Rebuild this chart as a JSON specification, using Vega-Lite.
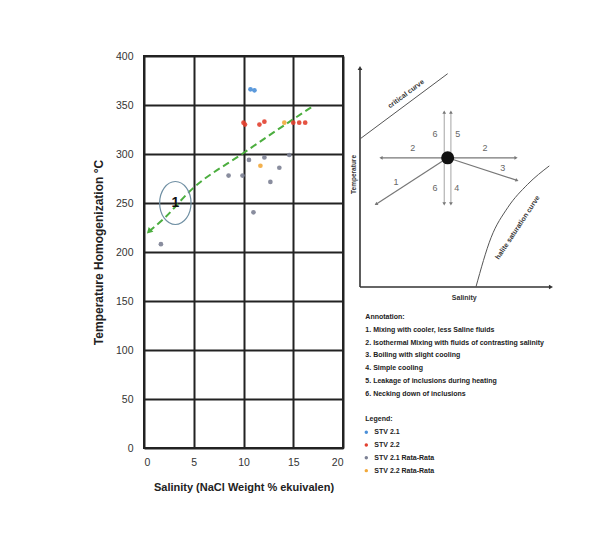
{
  "$schema": "https://vega.github.io/schema/vega-lite/v6.json",
  "background": "white",
  "padding": {"left": 91, "top": 50, "right": 5, "bottom": 5},
  "bounds": "flush",
  "spacing": 8,
  "config": {"font": "Liberation Sans", "view": {"stroke": null}},
  "datasets": {
    "points": [
      {"salinity": 10.7, "temperature": 366, "series": "STV 2.1"},
      {"salinity": 11.1, "temperature": 365, "series": "STV 2.1"},
      {"salinity": 10.0, "temperature": 332, "series": "STV 2.2"},
      {"salinity": 10.15, "temperature": 330, "series": "STV 2.2"},
      {"salinity": 11.6, "temperature": 330, "series": "STV 2.2"},
      {"salinity": 12.1, "temperature": 333, "series": "STV 2.2"},
      {"salinity": 15.0, "temperature": 332, "series": "STV 2.2"},
      {"salinity": 15.6, "temperature": 332, "series": "STV 2.2"},
      {"salinity": 16.2, "temperature": 332, "series": "STV 2.2"},
      {"salinity": 10.55, "temperature": 294, "series": "STV 2.1 Rata-Rata"},
      {"salinity": 12.1, "temperature": 296.5, "series": "STV 2.1 Rata-Rata"},
      {"salinity": 13.6, "temperature": 286, "series": "STV 2.1 Rata-Rata"},
      {"salinity": 8.5, "temperature": 278, "series": "STV 2.1 Rata-Rata"},
      {"salinity": 9.9, "temperature": 278, "series": "STV 2.1 Rata-Rata"},
      {"salinity": 12.7, "temperature": 271.5, "series": "STV 2.1 Rata-Rata"},
      {"salinity": 14.6, "temperature": 299, "series": "STV 2.1 Rata-Rata"},
      {"salinity": 11.0, "temperature": 240.5, "series": "STV 2.1 Rata-Rata"},
      {"salinity": 1.7, "temperature": 208, "series": "STV 2.1 Rata-Rata"},
      {"salinity": 11.7, "temperature": 288, "series": "STV 2.2 Rata-Rata"},
      {"salinity": 14.1, "temperature": 332, "series": "STV 2.2 Rata-Rata"}
    ],
    "trend": [
      {"salinity": 0.5, "temperature": 221},
      {"salinity": 2.1, "temperature": 235},
      {"salinity": 4.6, "temperature": 262},
      {"salinity": 10.0, "temperature": 301},
      {"salinity": 17.0, "temperature": 349}
    ],
    "trendHead": [{"salinity": 0.5, "temperature": 221}],
    "group": [{"salinity": 3.15, "temperature": 250, "label": "1"}],
    "schemaLines": [
      {"id": "yaxis", "kind": "axis", "s": 0, "t": 0},
      {"id": "yaxis", "kind": "axis", "s": 0, "t": 10.0},
      {"id": "xaxis", "kind": "axis", "s": 0, "t": 0},
      {"id": "xaxis", "kind": "axis", "s": 10.0, "t": 0},
      {"id": "critical", "kind": "curve", "s": 0, "t": 6.76},
      {"id": "critical", "kind": "curve", "s": 4.59, "t": 9.74},
      {"id": "halite", "kind": "halite", "s": 6.07, "t": 0},
      {"id": "halite", "kind": "halite", "s": 6.86, "t": 2.25},
      {"id": "halite", "kind": "halite", "s": 7.73, "t": 3.62},
      {"id": "halite", "kind": "halite", "s": 8.78, "t": 4.69},
      {"id": "halite", "kind": "halite", "s": 9.91, "t": 5.53},
      {"id": "p2", "kind": "process", "s": 1.10, "t": 5.90},
      {"id": "p2", "kind": "process", "s": 8.17, "t": 5.90},
      {"id": "p1", "kind": "process", "s": 4.59, "t": 5.90},
      {"id": "p1", "kind": "process", "s": 0.84, "t": 3.78},
      {"id": "p3", "kind": "process", "s": 4.59, "t": 5.90},
      {"id": "p3", "kind": "process", "s": 8.22, "t": 4.87},
      {"id": "p6", "kind": "vertical", "s": 4.41, "t": 7.99},
      {"id": "p6", "kind": "vertical", "s": 4.41, "t": 3.80},
      {"id": "p54", "kind": "vertical", "s": 4.76, "t": 7.99},
      {"id": "p54", "kind": "vertical", "s": 4.76, "t": 3.80}
    ],
    "heads": [
      {"kind": "axis", "s": 0, "t": 10.0, "dir": 0},
      {"kind": "axis", "s": 10.0, "t": 0, "dir": 90},
      {"kind": "process", "s": 1.10, "t": 5.90, "dir": 270},
      {"kind": "process", "s": 8.17, "t": 5.90, "dir": 90},
      {"kind": "process", "s": 0.84, "t": 3.78, "dir": 237},
      {"kind": "process", "s": 8.22, "t": 4.87, "dir": 109},
      {"kind": "process", "s": 4.41, "t": 7.99, "dir": 0},
      {"kind": "process", "s": 4.41, "t": 3.80, "dir": 180},
      {"kind": "process", "s": 4.76, "t": 7.99, "dir": 0},
      {"kind": "process", "s": 4.76, "t": 3.80, "dir": 180}
    ],
    "numbers": [
      {"s": 3.93, "t": 6.99, "label": "6"},
      {"s": 5.12, "t": 6.99, "label": "5"},
      {"s": 2.76, "t": 6.36, "label": "2"},
      {"s": 6.54, "t": 6.36, "label": "2"},
      {"s": 7.47, "t": 5.45, "label": "3"},
      {"s": 1.88, "t": 4.81, "label": "1"},
      {"s": 3.93, "t": 4.51, "label": "6"},
      {"s": 5.06, "t": 4.51, "label": "4"}
    ],
    "annotations": [
      {"line": 0, "label": "Annotation:"},
      {"line": 1, "label": "1. Mixing with cooler, less Saline fluids"},
      {"line": 2, "label": "2. Isothermal Mixing with fluids of contrasting salinity"},
      {"line": 3, "label": "3. Boiling with slight cooling"},
      {"line": 4, "label": "4. Simple cooling"},
      {"line": 5, "label": "5. Leakage of inclusions during heating"},
      {"line": 6, "label": "6. Necking down of inclusions"},
      {"line": 8, "label": "Legend:"}
    ],
    "legendItems": [
      {"line": 9, "series": "STV 2.1"},
      {"line": 10, "series": "STV 2.2"},
      {"line": 11, "series": "STV 2.1 Rata-Rata"},
      {"line": 12, "series": "STV 2.2 Rata-Rata"}
    ]
  },
  "hconcat": [
    {
      "width": 199,
      "height": 392,
      "view": {"stroke": "#222", "strokeWidth": 2},
      "encoding": {
        "x": {
          "field": "salinity", "type": "quantitative",
          "scale": {"domain": [0, 20], "nice": false, "zero": false},
          "axis": {
            "title": "Salinity (NaCl Weight % ekuivalen)",
            "values": [0, 5, 10, 15, 20],
            "grid": true, "gridColor": "#222", "gridWidth": 2, "gridOpacity": 1,
            "domain": false, "ticks": false, "tickSize": 0,
            "labelPadding": 9, "labelFontSize": 10.5, "labelColor": "#333",
            "titleFontSize": 11, "titleFontWeight": "bold", "titleColor": "#222", "titlePadding": 14
          }
        },
        "y": {
          "field": "temperature", "type": "quantitative",
          "scale": {"domain": [0, 400], "nice": false, "zero": false},
          "axis": {
            "title": "Temperature Homogenization °C",
            "values": [0, 50, 100, 150, 200, 250, 300, 350, 400],
            "grid": true, "gridColor": "#222", "gridWidth": 2, "gridOpacity": 1,
            "domain": false, "ticks": false, "tickSize": 0,
            "labelPadding": 11, "labelFontSize": 10.5, "labelColor": "#333",
            "titleFontSize": 12, "titleFontWeight": "bold", "titleColor": "#222", "titlePadding": 10
          }
        }
      },
      "layer": [
        {
          "data": {"name": "trend"},
          "mark": {"type": "line", "color": "#4cae3f", "strokeDash": [7, 4], "strokeWidth": 2, "interpolate": "monotone"},
          "encoding": {}
        },
        {
          "data": {"name": "trendHead"},
          "mark": {"type": "point", "shape": "triangle-up", "filled": true, "color": "#4cae3f", "size": 45, "angle": 225, "opacity": 1},
          "encoding": {}
        },
        {
          "data": {"name": "group"},
          "mark": {"type": "point", "shape": "M-0.73,0A0.73,1 0 1,0 0.73,0A0.73,1 0 1,0 -0.73,0Z", "filled": false, "size": 1849, "stroke": "#6f8fa3", "strokeWidth": 1.2, "opacity": 1},
          "encoding": {}
        },
        {
          "data": {"name": "group"},
          "mark": {"type": "text", "fontSize": 14, "fontWeight": "bold", "color": "#111", "baseline": "middle", "align": "center"},
          "encoding": {"text": {"field": "label"}}
        },
        {
          "data": {"name": "points"},
          "mark": {"type": "point", "filled": true, "size": 22, "opacity": 0.9},
          "encoding": {
            "color": {
              "field": "series", "type": "nominal",
              "scale": {"domain": ["STV 2.1", "STV 2.2", "STV 2.1 Rata-Rata", "STV 2.2 Rata-Rata"], "range": ["#4a8fd8", "#e2402f", "#7c8194", "#f2a93b"]},
              "legend": null
            }
          }
        }
      ]
    },
    {
      "width": 250,
      "height": 425,
      "view": {"stroke": null},
      "resolve": {"scale": {"y": "independent"}},
      "layer": [
        {
          "encoding": {
            "x": {"field": "s", "type": "quantitative", "scale": {"domain": [-0.471, 12.618], "nice": false, "zero": false}, "axis": null},
            "y": {"field": "t", "type": "quantitative", "scale": {"domain": [-8.858, 10.548], "nice": false, "zero": false}, "axis": null}
          },
          "layer": [
            {
              "data": {"name": "schemaLines"},
              "transform": [{"filter": "datum.kind === 'axis'"}],
              "mark": {"type": "line", "color": "#333", "strokeWidth": 1.6},
              "encoding": {"detail": {"field": "id"}}
            },
            {
              "data": {"name": "schemaLines"},
              "transform": [{"filter": "datum.kind === 'curve'"}],
              "mark": {"type": "line", "color": "#555", "strokeWidth": 1},
              "encoding": {"detail": {"field": "id"}}
            },
            {
              "data": {"name": "schemaLines"},
              "transform": [{"filter": "datum.kind === 'halite'"}],
              "mark": {"type": "line", "color": "#555", "strokeWidth": 1, "interpolate": "monotone"},
              "encoding": {"detail": {"field": "id"}}
            },
            {
              "data": {"name": "schemaLines"},
              "transform": [{"filter": "datum.kind === 'process'"}],
              "mark": {"type": "line", "color": "#777", "strokeWidth": 1.2},
              "encoding": {"detail": {"field": "id"}}
            },
            {
              "data": {"name": "schemaLines"},
              "transform": [{"filter": "datum.kind === 'vertical'"}],
              "mark": {"type": "line", "color": "#999", "strokeWidth": 0.9},
              "encoding": {"detail": {"field": "id"}}
            },
            {
              "data": {"name": "heads"},
              "transform": [{"filter": "datum.kind === 'axis'"}],
              "mark": {"type": "point", "shape": "triangle-up", "filled": true, "color": "#333", "size": 22, "opacity": 1},
              "encoding": {"angle": {"field": "dir", "type": "quantitative", "scale": null}}
            },
            {
              "data": {"name": "heads"},
              "transform": [{"filter": "datum.kind === 'process'"}],
              "mark": {"type": "point", "shape": "triangle-up", "filled": true, "color": "#777", "size": 14, "opacity": 1},
              "encoding": {"angle": {"field": "dir", "type": "quantitative", "scale": null}}
            },
            {
              "data": {"values": [{"s": 4.59, "t": 5.90}]},
              "mark": {"type": "point", "shape": "circle", "filled": true, "color": "#111", "size": 170, "opacity": 1},
              "encoding": {}
            },
            {
              "data": {"name": "numbers"},
              "mark": {"type": "text", "fontSize": 9, "color": "#666", "align": "center", "baseline": "middle"},
              "encoding": {"text": {"field": "label"}}
            },
            {
              "data": {"values": [{"s": 2.41, "t": 8.81, "label": "critical curve"}]},
              "mark": {"type": "text", "fontSize": 7, "fontWeight": "bold", "color": "#333", "angle": -36.7, "align": "center", "baseline": "middle"},
              "encoding": {"text": {"field": "label"}}
            },
            {
              "data": {"values": [{"s": 8.26, "t": 2.71, "label": "halite saturation curve"}]},
              "mark": {"type": "text", "fontSize": 7, "fontWeight": "bold", "color": "#333", "angle": -56.6, "align": "center", "baseline": "middle"},
              "encoding": {"text": {"field": "label"}}
            },
            {
              "data": {"values": [{"s": -0.3, "t": 5.14, "label": "Temperature"}]},
              "mark": {"type": "text", "fontSize": 6.5, "fontWeight": "bold", "color": "#333", "angle": -90, "align": "center", "baseline": "middle"},
              "encoding": {"text": {"field": "label"}}
            },
            {
              "data": {"values": [{"s": 5.46, "t": -0.49, "label": "Salinity"}]},
              "mark": {"type": "text", "fontSize": 7, "fontWeight": "bold", "color": "#333", "align": "center", "baseline": "middle"},
              "encoding": {"text": {"field": "label"}}
            }
          ]
        },
        {
          "encoding": {
            "y": {"field": "line", "type": "quantitative", "scale": {"domain": [-20.39, 12.81], "reverse": true, "nice": false, "zero": false}, "axis": null}
          },
          "layer": [
            {
              "data": {"name": "annotations"},
              "mark": {"type": "text", "fontSize": 7, "fontWeight": "bold", "color": "#222", "align": "left", "baseline": "middle"},
              "encoding": {
                "x": {"datum": 0.28, "type": "quantitative", "scale": {"domain": [-0.471, 12.618], "nice": false, "zero": false}, "axis": null},
                "text": {"field": "label"}
              }
            },
            {
              "data": {"name": "legendItems"},
              "mark": {"type": "point", "filled": true, "size": 12, "opacity": 1},
              "encoding": {
                "x": {"datum": 0.33, "type": "quantitative", "axis": null},
                "color": {
                  "field": "series", "type": "nominal",
                  "scale": {"domain": ["STV 2.1", "STV 2.2", "STV 2.1 Rata-Rata", "STV 2.2 Rata-Rata"], "range": ["#4a8fd8", "#e2402f", "#7c8194", "#f2a93b"]},
                  "legend": null
                }
              }
            },
            {
              "data": {"name": "legendItems"},
              "mark": {"type": "text", "fontSize": 7, "fontWeight": "bold", "color": "#222", "align": "left", "baseline": "middle"},
              "encoding": {
                "x": {"datum": 0.75, "type": "quantitative", "axis": null},
                "text": {"field": "series"}
              }
            }
          ]
        }
      ]
    }
  ]
}
